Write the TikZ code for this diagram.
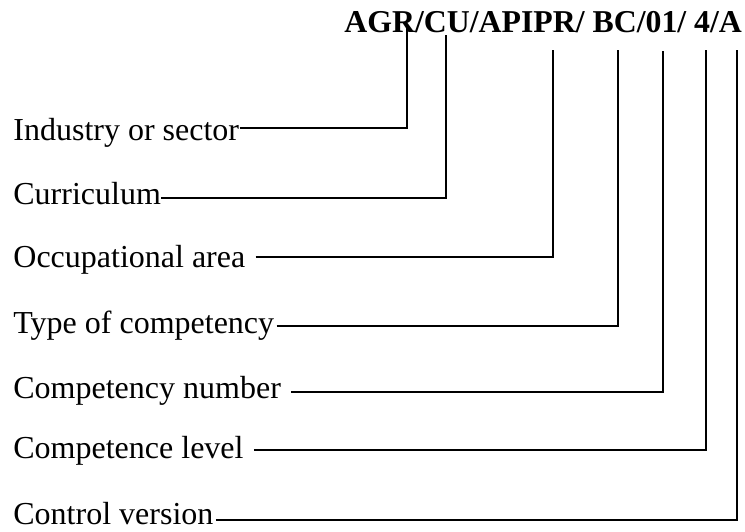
\documentclass[tikz,border=0pt]{standalone}
\usepackage{fontspec}
\setmainfont{Liberation Serif}
\tikzset{
  lbl/.style={anchor=base west,inner sep=0pt,font=\fontsize{16}{19}\selectfont},
  codetxt/.style={anchor=base west,inner sep=0pt,font=\fontsize{15.9}{19}\selectfont\bfseries},
  lead/.style={line width=0.8pt}
}
\begin{document}
\begin{tikzpicture}[x=0.5pt,y=-0.5pt]
\useasboundingbox (0,0) rectangle (745,531);
\node[codetxt](code) at (344,32) {AGR/CU/APIPR/ BC/01/ 4/A};

\draw 	(13,140) node[lbl](l1){Industry or sector}   (13,204) node[lbl](l2){Curriculum}
		(13,267) node[lbl](l3){Occupational area}    (13,333) node[lbl](l4){Type of competency}
		(13,398) node[lbl](l5){Competency number}    (13,458) node[lbl](l6){Competence level}
		(13,524) node[lbl](l7){Control version};

% tops of the leaders, under the code
\coordinate (t1) at (407,28);  \coordinate (t2) at (446,35);
\coordinate (t3) at (553,50);  \coordinate (t4) at (618,50);
\coordinate (t5) at (663,51);  \coordinate (t6) at (706,50);
\coordinate (t7) at (737,50);
% corners
\coordinate (c1) at (407,128); \coordinate (c2) at (446,198);
\coordinate (c3) at (553,257); \coordinate (c4) at (618,326);
\coordinate (c5) at (663,392); \coordinate (c6) at (706,450);
\coordinate (c7) at (737,520);

\draw[lead] (l1.east |- c1) -- (c1) -- (t1);
\draw[lead] (l2.east |- c2) -- (c2) -- (t2);
\draw[lead] ([xshift=5pt]l3.east |- c3) -- (c3) -- (t3);
\draw[lead] ([xshift=1pt]l4.east |- c4) -- (c4) -- (t4);
\draw[lead] ([xshift=5pt]l5.east |- c5) -- (c5) -- (t5);
\draw[lead] ([xshift=5pt]l6.east |- c6) -- (c6) -- (t6);
\draw[lead] ([xshift=1pt]l7.east |- c7) -- (c7) -- (t7);
\end{tikzpicture}
\end{document}
